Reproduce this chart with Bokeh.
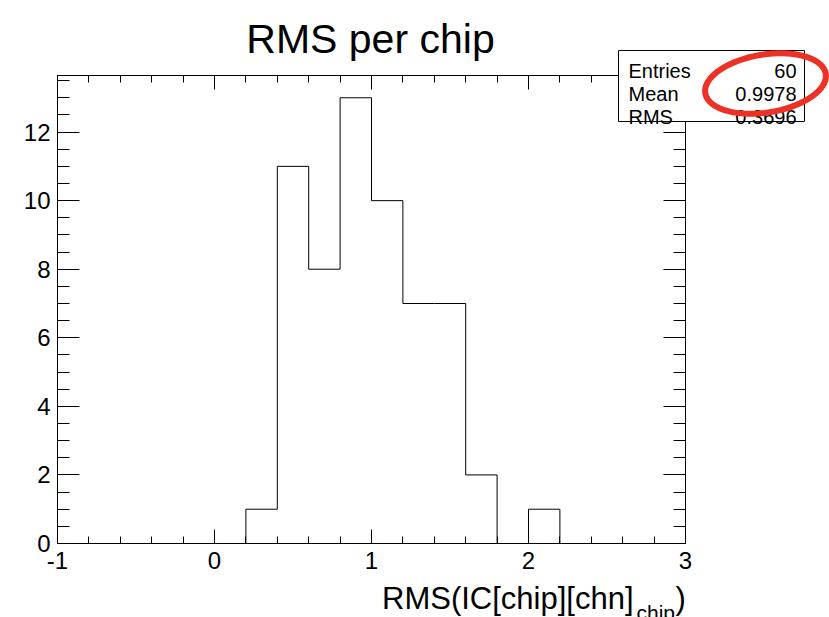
import numpy as np
from bokeh.plotting import figure
from bokeh.models import (LinearAxis, SingleIntervalTicker, Range1d, Label,
                          BoxAnnotation, PolyAnnotation, CustomJSTickFormatter,
                          NumeralTickFormatter)
from bokeh.embed import file_html
from bokeh.resources import INLINE

# ---- data ----
bin_edges = [-1.0, -0.8, -0.6, -0.4, -0.2, 0.0, 0.2, 0.4, 0.6, 0.8, 1.0,
             1.2, 1.4, 1.6, 1.8, 2.0, 2.2, 2.4, 2.6, 2.8, 3.0]
counts = [0, 0, 0, 0, 0, 0, 1, 11, 8, 13, 10, 7, 7, 2, 0, 1, 0, 0, 0, 0]
x_limits = [-1.0, 3.0]
y_limits = [0.0, 13.65]
stat_names = ["Entries", "Mean", "RMS"]
stat_values = ["60", "0.9978", "0.3696"]
title_text = "RMS per chip"
xlabel_main = "RMS(IC[chip][chn]"
xlabel_sub = "chip"
xlabel_end = ")"

FONT = "Liberation Sans"

# ---- layout (pixels) ----
W, H = 829, 617
FL, FR, FT, FB = 57, 685, 75, 543   # data box edges on the canvas
sx = (FR - FL) / (x_limits[1] - x_limits[0])
sy = (FB - FT) / (y_limits[1] - y_limits[0])
xr = Range1d(x_limits[0] - FL / sx, x_limits[1] + (W - FR) / sx)
yr = Range1d(y_limits[0] - (H - FB) / sy, y_limits[1] + FT / sy)

p = figure(width=W, height=H, output_backend="svg", toolbar_location=None,
           x_range=xr, y_range=yr, x_axis_type=None, y_axis_type=None,
           min_border=0)
p.background_fill_color = "white"
p.border_fill_color = "white"
p.outline_line_color = None


def make_axis(kind, labels, loc):
    if kind == "x":
        t = SingleIntervalTicker(interval=1, num_minor_ticks=5)
        maj, mnr = 14, 7
        bounds = tuple(x_limits)
    else:
        t = SingleIntervalTicker(interval=2, num_minor_ticks=4)
        maj, mnr = 22, 12
        bounds = tuple(y_limits)
    ax = LinearAxis(ticker=t, fixed_location=loc, bounds=bounds)
    ax.major_tick_in = maj
    ax.major_tick_out = 0
    ax.minor_tick_in = mnr
    ax.minor_tick_out = 0
    ax.axis_line_color = "black"
    ax.major_tick_line_color = "black"
    ax.minor_tick_line_color = "black"
    if labels:
        ax.formatter = NumeralTickFormatter(format="0")
        ax.major_label_text_font = FONT
        ax.major_label_text_font_size = "24px"
        ax.major_label_text_color = "black"
        ax.major_label_standoff = 8 if kind == "x" else 7
    else:
        ax.formatter = CustomJSTickFormatter(code="return ''")
        ax.major_label_standoff = 0
    return ax


p.add_layout(make_axis("x", True, y_limits[0]), "below")
p.add_layout(make_axis("y", True, x_limits[0]), "left")
p.add_layout(make_axis("x", False, y_limits[1]), "above")
p.add_layout(make_axis("y", False, x_limits[1]), "right")

# histogram outline
p.step(x=bin_edges, y=counts + [counts[-1]], mode="after",
       line_color="black", line_width=1)

# title
p.add_layout(Label(x=370, y=38, x_units="canvas", y_units="canvas",
                   text=title_text, text_align="center", text_baseline="alphabetic",
                   text_font=FONT, text_font_size="41px", text_color="black"))

# x axis title with subscript
p.add_layout(Label(x=633, y=598, x_units="canvas", y_units="canvas",
                   text=xlabel_main, text_align="right", text_baseline="alphabetic",
                   text_font=FONT, text_font_size="31px", text_color="black"))
p.add_layout(Label(x=636, y=612, x_units="canvas", y_units="canvas",
                   text=xlabel_sub, text_align="left", text_baseline="alphabetic",
                   text_font=FONT, text_font_size="21px", text_color="black"))
p.add_layout(Label(x=675, y=598, x_units="canvas", y_units="canvas",
                   text=xlabel_end, text_align="left", text_baseline="alphabetic",
                   text_font=FONT, text_font_size="31px", text_color="black"))

# stats box
p.add_layout(BoxAnnotation(left=618, right=804, top=50, bottom=121,
                           left_units="canvas", right_units="canvas",
                           top_units="canvas", bottom_units="canvas",
                           fill_color="white", fill_alpha=1.0,
                           line_color="black", line_alpha=1.0, line_width=1))
for i, (nm, vl) in enumerate(zip(stat_names, stat_values)):
    yb = 70 + 23 * i
    p.add_layout(Label(x=628, y=yb, x_units="canvas", y_units="canvas",
                       text=nm, text_align="left", text_baseline="alphabetic",
                       text_font=FONT, text_font_size="20px", text_color="black"))
    p.add_layout(Label(x=796, y=yb, x_units="canvas", y_units="canvas",
                       text=vl, text_align="right", text_baseline="alphabetic",
                       text_font=FONT, text_font_size="20px", text_color="black"))

# red hand-drawn ellipse highlight
t = np.linspace(0, 2 * np.pi, 160)
cx, cy, a, b, th = 765, 83, 61, 29, -0.16
ex = cx + a * np.cos(t) * np.cos(th) - b * np.sin(t) * np.sin(th)
ey = cy + a * np.cos(t) * np.sin(th) + b * np.sin(t) * np.cos(th)
p.add_layout(PolyAnnotation(xs=list(ex), ys=list(ey), xs_units="canvas", ys_units="canvas",
                            fill_color=None, fill_alpha=0, line_color="#ee3124",
                            line_alpha=1.0, line_width=6))

open("out.html", "w").write(file_html(p, INLINE))
